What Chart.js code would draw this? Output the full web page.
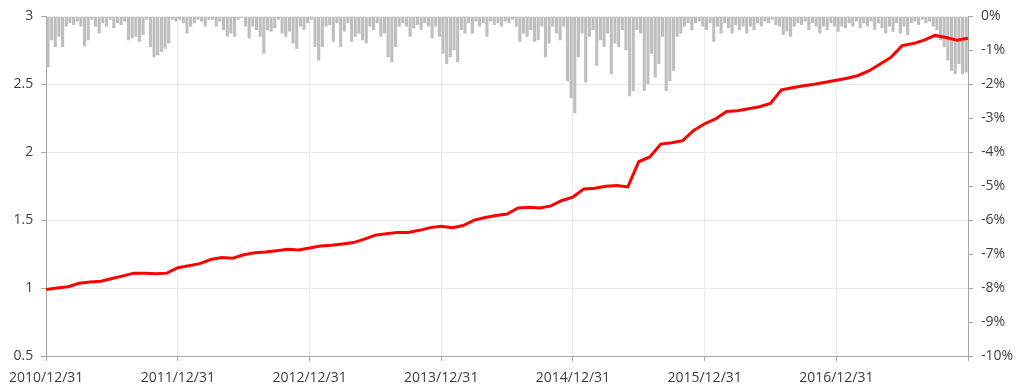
<!DOCTYPE html>
<html>
<head>
<meta charset="utf-8">
<script src="https://cdn.jsdelivr.net/npm/chart.js@4"></script>
<style>
  html, body { margin: 0; padding: 0; background: #ffffff; }
  #wrap { width: 1020px; height: 390px; position: relative; }
</style>
</head>
<body>
<div id="wrap"><canvas id="c"></canvas></div>
<script>
// Year-end tick labels (every 12 months)
const tickLabels = ['2010/12/31','2011/12/31','2012/12/31','2013/12/31','2014/12/31','2015/12/31','2016/12/31',''];

// Net value, one reading per month starting 2010/12/31
const navMonthly = [
  0.99,1.00,1.01,1.035,1.045,1.05,1.07,1.09,1.11,1.11,1.105,1.11,
  1.15,1.165,1.18,1.21,1.225,1.22,1.245,1.26,1.265,1.275,1.285,1.28,
  1.295,1.31,1.315,1.325,1.335,1.36,1.39,1.40,1.41,1.41,1.425,1.445,
  1.455,1.445,1.46,1.50,1.52,1.535,1.545,1.59,1.595,1.59,1.605,1.645,
  1.67,1.73,1.735,1.75,1.755,1.745,1.93,1.965,2.06,2.07,2.085,2.16,
  2.21,2.245,2.30,2.305,2.32,2.335,2.36,2.46,2.475,2.49,2.50,2.515,
  2.53,2.545,2.565,2.60,2.65,2.70,2.785,2.80,2.825,2.86,2.845,2.825,
  2.84
];

// Drawdown (%), three readings per month
const drawdown = [
  -1.5,-0.7,-0.9,-0.6,-0.9,-0.3,-0.2,-0.25,-0.15,-0.3,-0.88,-0.7,
  -0.1,-0.3,-0.5,-0.2,-0.3,-0.1,-0.35,-0.2,-0.25,-0.15,-0.7,-0.65,
  -0.6,-0.75,-0.55,-0.1,-0.9,-1.2,-1.15,-1.05,-0.95,-0.8,-0.1,-0.15,
  -0.1,-0.2,-0.5,-0.3,-0.2,-0.1,-0.15,-0.3,-0.1,-0.1,-0.3,-0.15,
  -0.4,-0.6,-0.5,-0.6,-0.1,-0.05,-0.3,-0.65,-0.3,-0.4,-0.6,-1.1,
  -0.4,-0.45,-0.35,-0.1,-0.5,-0.6,-0.45,-0.8,-0.95,-0.3,-0.4,-0.2,
  -0.1,-0.9,-1.3,-0.9,-0.3,-0.25,-0.75,-0.2,-0.9,-0.45,-0.2,-0.75,
  -0.6,-0.5,-0.7,-0.8,-0.3,-0.4,-0.2,-0.6,-0.5,-1.2,-1.35,-0.9,
  -0.3,-0.2,-0.3,-0.6,-0.35,-0.25,-0.4,-0.2,-0.3,-0.65,-0.3,-0.6,
  -1.1,-1.4,-1.2,-1.0,-1.35,-0.4,-0.5,-0.2,-0.5,-0.15,-0.3,-0.2,
  -0.6,-0.15,-0.25,-0.2,-0.3,-0.15,-0.2,-0.1,-0.3,-0.75,-0.5,-0.6,
  -0.4,-0.75,-0.7,-0.3,-1.2,-0.8,-0.3,-0.5,-0.7,-0.3,-1.9,-2.4,
  -2.85,-1.2,-0.5,-1.95,-0.6,-0.4,-1.45,-0.7,-0.9,-0.5,-1.7,-0.8,
  -0.9,-0.4,-1.0,-2.35,-2.2,-0.4,-0.5,-2.2,-2.0,-1.1,-1.8,-1.4,
  -0.6,-2.2,-1.9,-1.6,-0.6,-0.5,-0.3,-0.2,-0.4,-0.2,-0.15,-0.3,
  -0.4,-0.2,-0.75,-0.3,-0.5,-0.2,-0.35,-0.5,-0.25,-0.4,-0.3,-0.5,
  -0.3,-0.4,-0.2,-0.3,-0.15,-0.2,-0.1,-0.25,-0.3,-0.55,-0.45,-0.6,
  -0.3,-0.2,-0.25,-0.15,-0.4,-0.2,-0.3,-0.5,-0.3,-0.4,-0.2,-0.3,
  -0.45,-0.3,-0.35,-0.2,-0.3,-0.15,-0.35,-0.2,-0.3,-0.15,-0.4,-0.2,
  -0.35,-0.5,-0.3,-0.45,-0.2,-0.5,-0.3,-0.55,-0.2,-0.15,-0.25,-0.1,
  -0.2,-0.15,-0.3,-0.4,-0.7,-0.9,-1.3,-1.6,-1.7,-1.4,-1.7,-1.65
];

const monthsPerYear = 12;
const readingsPerMonth = 3;

const navPoints = navMonthly.map((v, m) => ({ x: m, y: v }));
const ddPoints = drawdown.map((v, i) => ({ x: (i + 0.5) / readingsPerMonth, y: v }));

Chart.defaults.font.family = "'Open Sans', 'Noto Sans', sans-serif";
Chart.defaults.font.size = 14;
Chart.defaults.color = '#404040';

const axisGray = '#a6a6a6';
const gridGray = '#e9e9e9';

new Chart(document.getElementById('c'), {
  data: {
    datasets: [
      {
        type: 'line',
        label: 'NAV',
        data: navPoints,
        xAxisID: 'x',
        yAxisID: 'y',
        borderColor: '#ff0000',
        borderWidth: 3,
        pointRadius: 0,
        tension: 0,
        order: 0
      },
      {
        type: 'bar',
        label: 'Drawdown',
        data: ddPoints,
        xAxisID: 'x',
        yAxisID: 'y1',
        backgroundColor: '#bfbfbf',
        borderWidth: 0,
        barPercentage: 0.85,
        categoryPercentage: 1.0,
        order: 1
      }
    ]
  },
  options: {
    responsive: true,
    maintainAspectRatio: false,
    animation: false,
    layout: { padding: { top: 15, left: 0, right: 0, bottom: 0 } },
    plugins: { legend: { display: false }, tooltip: { enabled: false } },
    scales: {
      x: {
        type: 'linear',
        position: 'bottom',
        offset: false,
        min: 0,
        max: (tickLabels.length - 1) * monthsPerYear,
        afterBuildTicks: (s) => { s.ticks = tickLabels.map((_, i) => ({ value: i * monthsPerYear })); },
        afterFit: (s) => { s.height = 34; },
        ticks: {
          autoSkip: false,
          maxRotation: 0,
          padding: 9,
          callback: (v) => tickLabels[Math.round(v / monthsPerYear)]
        },
        grid: { offset: false, color: gridGray, tickLength: 5, tickColor: axisGray },
        border: { color: axisGray }
      },
      y: {
        type: 'linear',
        position: 'left',
        min: 0.5,
        max: 3,
        afterBuildTicks: (s) => { s.ticks = [0.5,1,1.5,2,2.5,3].map(v => ({ value: v })); },
        afterFit: (s) => { s.width = 43; },
        ticks: { padding: 8, callback: (v) => String(v) },
        grid: { color: gridGray, tickLength: 5, tickColor: axisGray },
        border: { color: axisGray }
      },
      y1: {
        type: 'linear',
        position: 'right',
        min: -10,
        max: 0,
        afterBuildTicks: (s) => { s.ticks = [-10,-9,-8,-7,-6,-5,-4,-3,-2,-1,0].map(v => ({ value: v })); },
        afterFit: (s) => { s.width = 52; },
        ticks: { padding: 8, callback: (v) => v + '%' },
        grid: { drawOnChartArea: false, tickLength: 5, tickColor: axisGray },
        border: { color: axisGray }
      }
    }
  }
});
</script>
</body>
</html>
